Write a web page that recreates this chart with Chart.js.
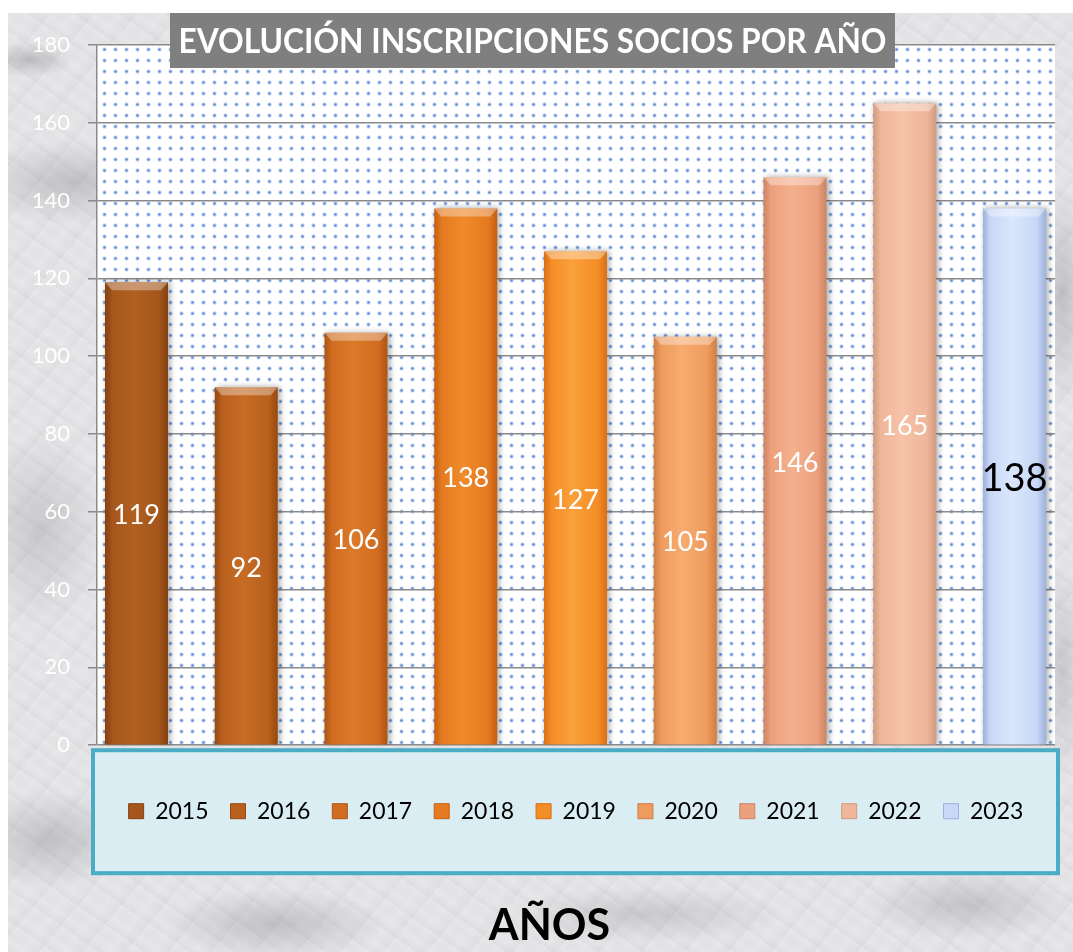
<!DOCTYPE html>
<html>
<head>
<meta charset="utf-8">
<script src="https://cdn.jsdelivr.net/npm/chart.js@4.4.1/dist/chart.umd.min.js"></script>
<style>
  html, body { margin:0; padding:0; background:#ffffff; width:1073px; height:952px; overflow:hidden; }
  #marble {
    position:absolute; left:8px; top:13px; width:1065px; height:939px;
    background:
      radial-gradient(ellipse 140px 60px at 6% 18%, rgba(110,110,115,0.30), transparent 70%),
      radial-gradient(ellipse 90px 140px at 3% 55%, rgba(120,120,125,0.26), transparent 70%),
      radial-gradient(ellipse 120px 70px at 4% 88%, rgba(100,100,105,0.28), transparent 70%),
      radial-gradient(ellipse 160px 50px at 25% 97%, rgba(110,110,115,0.30), transparent 70%),
      radial-gradient(ellipse 200px 40px at 60% 96%, rgba(120,120,125,0.26), transparent 70%),
      radial-gradient(ellipse 150px 50px at 90% 95%, rgba(110,110,115,0.28), transparent 70%),
      radial-gradient(ellipse 40px 160px at 99% 30%, rgba(110,110,115,0.30), transparent 70%),
      radial-gradient(ellipse 40px 160px at 99% 70%, rgba(120,120,125,0.26), transparent 70%),
      radial-gradient(ellipse 60px 25px at 2% 5%, rgba(90,90,95,0.30), transparent 70%),
      repeating-linear-gradient(35deg, rgba(150,150,155,0.10) 0px, rgba(255,255,255,0) 9px, rgba(190,190,195,0.10) 17px, rgba(255,255,255,0) 26px),
      repeating-linear-gradient(-50deg, rgba(140,140,145,0.08) 0px, rgba(255,255,255,0) 13px, rgba(200,200,205,0.08) 23px, rgba(255,255,255,0) 33px),
      #e8e8ea;
  }
  #wrap { position:absolute; left:0; top:0; width:1073px; height:952px; }
</style>
</head>
<body>
<div id="marble"></div>
<div id="wrap"><canvas id="c" width="1073" height="952"></canvas></div>
<script>
// ---- data ----
const categories = ['2015','2016','2017','2018','2019','2020','2021','2022','2023'];
const inscripciones = [119, 92, 106, 138, 127, 105, 146, 165, 138];
const yTicks = [0, 20, 40, 60, 80, 100, 120, 140, 160, 180];
const chartTitle = 'EVOLUCIÓN INSCRIPCIONES SOCIOS POR AÑO';
const xAxisTitle = 'AÑOS';

// ---- styles ----
const baseColors = ['#a5561c','#b9601f','#d06c21','#e57a20','#f38d27','#ee9b5e','#eca07d','#efb699','#c8d8f6'];
const edgeColors = ['#84410f','#96480f','#ad5512','#c45f12','#d96f14','#cf7d44','#cc8464','#d29a80','#9eb0dc'];
const lightColors = ['#b0601f','#c66c24','#dc7a28','#f08a2a','#fba03a','#f7ac70','#f4b08e','#f6c2a8','#dae6fc'];

function buildDots() {
  const p = document.createElement('canvas');
  p.width = 11; p.height = 11;
  const c = p.getContext('2d');
  c.fillStyle = '#ffffff';
  c.fillRect(0,0,11,11);
  c.fillStyle = 'rgba(70,120,205,0.9)';
  c.beginPath(); c.arc(5.5,5.5,1.3,0,Math.PI*2); c.fill();
  c.fillStyle = 'rgba(120,160,225,0.35)';
  c.beginPath(); c.arc(5.5,5.5,2.2,0,Math.PI*2); c.fill();
  return p;
}

const decorPlugin = {
  id: 'decor',
  beforeDraw(chart) {
    const {ctx, chartArea: a} = chart;
    ctx.save();
    ctx.fillStyle = ctx.createPattern(buildDots(), 'repeat');
    ctx.fillRect(a.left, a.top, a.right - a.left, a.bottom - a.top);
    const fx = a.left - 4, fy = a.bottom + 5, fw = (a.right + 3) - fx, fh = 123;
    ctx.fillStyle = '#daedf3';
    ctx.fillRect(fx, fy, fw, fh);
    ctx.strokeStyle = '#4bacc6';
    ctx.lineWidth = 4;
    ctx.strokeRect(fx, fy, fw, fh);
    ctx.restore();
  },
  beforeDatasetsDraw(chart) {
    const ctx = chart.ctx;
    ctx.save();
    ctx.shadowColor = 'rgba(0,0,0,0.35)';
    ctx.shadowBlur = 6;
    ctx.shadowOffsetX = 2;
    ctx.shadowOffsetY = 0;
  },
  afterDatasetsDraw(chart) {
    const ctx = chart.ctx;
    ctx.restore();
    const meta = chart.getDatasetMeta(0);
    ctx.save();
    meta.data.forEach((el, i) => {
      const w = el.width, x0 = el.x - w/2, x1 = el.x + w/2, y = el.y;
      ctx.fillStyle = 'rgba(255,255,255,0.35)';
      ctx.beginPath();
      ctx.moveTo(x0, y); ctx.lineTo(x1, y); ctx.lineTo(x1 - 7, y + 8); ctx.lineTo(x0 + 7, y + 8);
      ctx.closePath(); ctx.fill();
      const last = i === meta.data.length - 1;
      ctx.font = last ? '38px Lato' : '27px Lato';
      ctx.fillStyle = last ? '#000000' : '#ffffff';
      ctx.textAlign = 'center';
      ctx.textBaseline = 'middle';
      ctx.fillText(String(inscripciones[i]), el.x, (el.y + el.base) / 2 + 2);
    });
    ctx.restore();
  },
  afterDraw(chart) {
    const ctx = chart.ctx;
    ctx.save();
    ctx.fillStyle = '#7f7f7f';
    ctx.fillRect(170, 13, 725, 55);
    ctx.fillStyle = '#ffffff';
    ctx.font = 'bold 34px Lato';
    ctx.textAlign = 'center';
    ctx.textBaseline = 'middle';
    ctx.fillText(chartTitle, 532.5, 42, 708);
    ctx.restore();
  }
};

function barFill(context) {
  const i = context.dataIndex;
  const chart = context.chart;
  const el = context.element;
  if (!chart.chartArea || !el || !el.width) return baseColors[i];
  const cx = el.x, w = el.width;
  const g = chart.ctx.createLinearGradient(cx - w/2, 0, cx + w/2, 0);
  g.addColorStop(0, edgeColors[i]);
  g.addColorStop(0.12, baseColors[i]);
  g.addColorStop(0.45, lightColors[i]);
  g.addColorStop(0.85, baseColors[i]);
  g.addColorStop(1, edgeColors[i]);
  return g;
}

function start() {
  const chart = new Chart(document.getElementById('c'), {
    type: 'bar',
    data: {
      labels: categories,
      datasets: [{
        label: 'Inscripciones',
        data: categories.map((c, i) => ({ x: i, y: inscripciones[i] })),
        backgroundColor: baseColors,
        borderWidth: 0,
        barPercentage: 0.574,
        categoryPercentage: 1.0
      }]
    },
    options: {
      responsive: false,
      animation: false,
      layout: { padding: { top: 45, right: 0, left: 26, bottom: 0 } },
      plugins: {
        tooltip: { enabled: false },
        legend: {
          display: true,
          position: 'bottom',
          fullSize: false,
          labels: {
            font: { family: 'Lato', size: 23 },
            color: '#000000',
            boxWidth: 15,
            boxHeight: 15,
            padding: 22,
            generateLabels: () => categories.map((c, i) => ({
              text: c,
              fillStyle: baseColors[i],
              strokeStyle: edgeColors[i],
              lineWidth: 1,
              hidden: false,
              index: i,
              fontColor: '#000000'
            }))
          }
        },
        title: {
          display: true,
          position: 'bottom',
          text: xAxisTitle,
          color: '#000000',
          font: { family: 'Lato', size: 43, weight: 'bold' },
          padding: { top: 67.7, bottom: 0 }
        }
      },
      scales: {
        x: {
          type: 'linear',
          offset: false,
          min: -0.36,
          max: 8.369,
          ticks: { display: false },
          grid: { display: false },
          border: { display: false },
          afterFit(s) { s.height = 32.5; }
        },
        y: {
          min: yTicks[0],
          max: yTicks[yTicks.length - 1],
          afterBuildTicks(s) { s.ticks = yTicks.map(v => ({ value: v })); },
          ticks: {
            color: '#ffffff',
            font: { family: 'Lato', size: 22 },
            padding: 18
          },
          grid: { color: '#8a8a8a', lineWidth: 1.5, tickLength: 9, drawTicks: true },
          border: { display: true, color: '#8a8a8a', width: 1.5 },
          afterFit(s) { s.width = 71; }
        },
        yRight: {
          position: 'right',
          display: true,
          min: 0,
          max: 180,
          ticks: { display: false },
          grid: { display: false, drawTicks: false },
          border: { display: false },
          afterFit(s) { s.width = 18; }
        }
      }
    },
    plugins: [decorPlugin]
  });
  // apply gradient fills now that bar geometry is known
  chart.data.datasets[0].backgroundColor = barFill;
  chart.update('none');
}

Promise.all([
  document.fonts.load('22px Lato'),
  document.fonts.load('bold 34px Lato')
]).then(start, start);
</script>
</body>
</html>
